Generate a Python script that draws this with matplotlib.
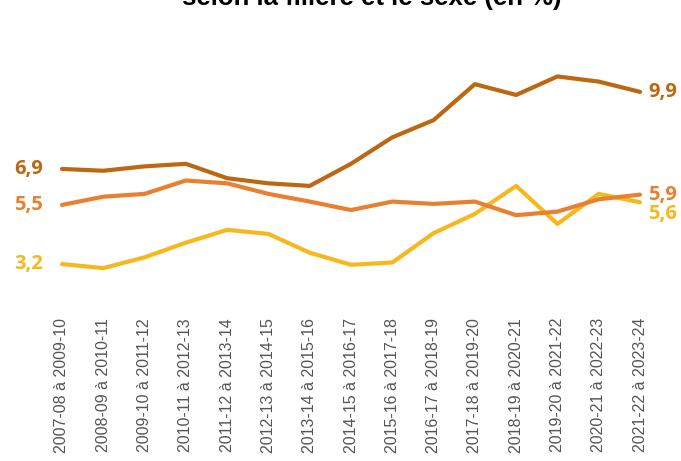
import matplotlib
matplotlib.use("Agg")
import matplotlib.pyplot as plt

periodes = ["2007-08 à 2009-10", "2008-09 à 2010-11", "2009-10 à 2011-12",
            "2010-11 à 2012-13", "2011-12 à 2013-14", "2012-13 à 2014-15",
            "2013-14 à 2015-16", "2014-15 à 2016-17", "2015-16 à 2017-18",
            "2016-17 à 2018-19", "2017-18 à 2019-20", "2018-19 à 2020-21",
            "2019-20 à 2021-22", "2020-21 à 2022-23", "2021-22 à 2023-24"]

serie_fonce = [6.9, 6.83, 7.0, 7.1, 6.54, 6.34, 6.24, 7.1, 8.13, 8.8,
               10.2, 9.78, 10.5, 10.3, 9.9]
serie_moyen = [5.5, 5.82, 5.93, 6.45, 6.34, 5.93, 5.63, 5.3, 5.63, 5.54,
               5.63, 5.1, 5.24, 5.72, 5.9]
serie_jaune = [3.2, 3.04, 3.46, 4.03, 4.53, 4.37, 3.64, 3.17, 3.26, 4.4,
               5.15, 6.24, 4.76, 5.93, 5.6]

c_fonce = "#BD6811"
c_moyen = "#E8802F"
c_jaune = "#F6B81C"

fig = plt.figure(figsize=(6.81, 4.61), dpi=100)
ax = fig.add_axes([62/681, 1-282/461, (640-62)/681, (282-63.6)/461])

x = list(range(len(periodes)))
ax.plot(x, serie_jaune, color=c_jaune, lw=3, solid_capstyle="round", clip_on=False)
ax.plot(x, serie_moyen, color=c_moyen, lw=3, solid_capstyle="round", clip_on=False)
ax.plot(x, serie_fonce, color=c_fonce, lw=3, solid_capstyle="round", clip_on=False)

ax.set_xlim(0, len(periodes)-1)
ax.set_ylim(2.5, 11)

def fmt(v):
    return ("%.1f" % v).replace(".", ",")

lab = dict(fontsize=14.5, fontweight="bold", family="Open Sans", va="center")
ax.text(-0.45, serie_fonce[0], fmt(serie_fonce[0]), color=c_fonce, ha="right", **lab)
ax.text(-0.45, serie_moyen[0], fmt(serie_moyen[0]), color=c_moyen, ha="right", **lab)
ax.text(-0.45, serie_jaune[0], fmt(serie_jaune[0]), color=c_jaune, ha="right", **lab)
n = len(periodes) - 1
ax.text(n + 0.2, serie_fonce[n], fmt(serie_fonce[n]), color=c_fonce, ha="left", **lab)
ax.text(n + 0.2, serie_moyen[n], fmt(serie_moyen[n]), color=c_moyen, ha="left", **lab)
ax.text(n + 0.2, serie_jaune[n] - 0.47, fmt(serie_jaune[n]), color=c_jaune, ha="left", **lab)

ax.set_xticks(x)
ax.set_xticklabels(periodes, rotation=90, fontsize=11.5, color="#555555",
                   family="Liberation Sans")
ax.tick_params(axis="x", length=0, pad=26)
ax.set_yticks([])
for s in ax.spines.values():
    s.set_visible(False)

fig.text(372/681, 1-5.5/461, "selon la filière et le sexe (en %)", ha="center",
         va="baseline", fontsize=18.5, fontweight="bold", family="Liberation Sans")

fig.savefig("out.png", dpi=100)
